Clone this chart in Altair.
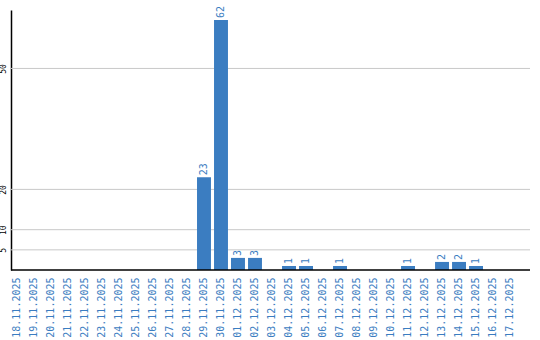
import altair as alt
import pandas as pd

dates = ["18.11.2025", "19.11.2025", "20.11.2025", "21.11.2025", "22.11.2025",
         "23.11.2025", "24.11.2025", "25.11.2025", "26.11.2025", "27.11.2025",
         "28.11.2025", "29.11.2025", "30.11.2025", "01.12.2025", "02.12.2025",
         "03.12.2025", "04.12.2025", "05.12.2025", "06.12.2025", "07.12.2025",
         "08.12.2025", "09.12.2025", "10.12.2025", "11.12.2025", "12.12.2025",
         "13.12.2025", "14.12.2025", "15.12.2025", "16.12.2025", "17.12.2025"]
counts = [0, 0, 0, 0, 0, 0, 0, 0, 0, 0, 0, 23, 62, 3, 3, 0, 1, 1, 0, 1,
          0, 0, 0, 1, 0, 2, 2, 1, 0, 0]
y_ticks = [5, 10, 20, 50]

BLUE = "#3b7dc1"
W, H = 519, 260
MONO = "DejaVu Sans Mono"

df = pd.DataFrame({"date": dates, "count": counts})
df["label"] = [str(c) if c > 0 else "" for c in counts]

xscale = alt.Scale(domain=dates, range=[-1, 506], paddingInner=0.18, paddingOuter=0)
yscale = alt.Scale(domain=[0, 64.5], nice=False)

grid = alt.Chart(pd.DataFrame({"t": y_ticks})).mark_rule(
    color="#c8c8c8", strokeWidth=1
).encode(x=alt.value(0), x2=alt.value(W), y=alt.Y("t:Q", scale=yscale))

base = alt.Chart(df)

bars = base.mark_bar(color=BLUE).encode(
    x=alt.X("date:N", sort=None, scale=xscale, title=None,
            axis=alt.Axis(labelAngle=-90, labelColor=BLUE, labelFont=MONO,
                          labelFontSize=10, ticks=False, domain=False,
                          labelPadding=7, grid=False)),
    y=alt.Y("count:Q", scale=yscale, title=None,
            axis=alt.Axis(values=y_ticks, labelAngle=-90, labelFont=MONO,
                          labelFontSize=8, labelColor="black", ticks=False,
                          domainColor="black", domainWidth=1.5, grid=False,
                          labelAlign="center", labelBaseline="bottom",
                          labelPadding=4)),
)

texts = base.transform_filter("datum.count > 0").mark_text(
    angle=270, align="left", baseline="middle", dx=2,
    color=BLUE, font=MONO, fontSize=10
).encode(
    x=alt.X("date:N", sort=None, scale=xscale),
    y=alt.Y("count:Q", scale=yscale),
    text="label:N",
)

baseline = alt.Chart(pd.DataFrame({"v": [0]})).mark_rule(
    color="black", strokeWidth=1.5
).encode(x=alt.value(0), x2=alt.value(W), y=alt.value(H))

chart = alt.layer(grid, bars, texts, baseline).properties(
    width=W, height=H,
    background="white",
    autosize=alt.AutoSizeParams(type="none"),
    padding={"left": 11, "top": 10, "right": 10, "bottom": 70},
).configure_view(stroke=None, strokeWidth=0)

chart.save("out.html", embed_options={"renderer": "svg", "actions": False})
